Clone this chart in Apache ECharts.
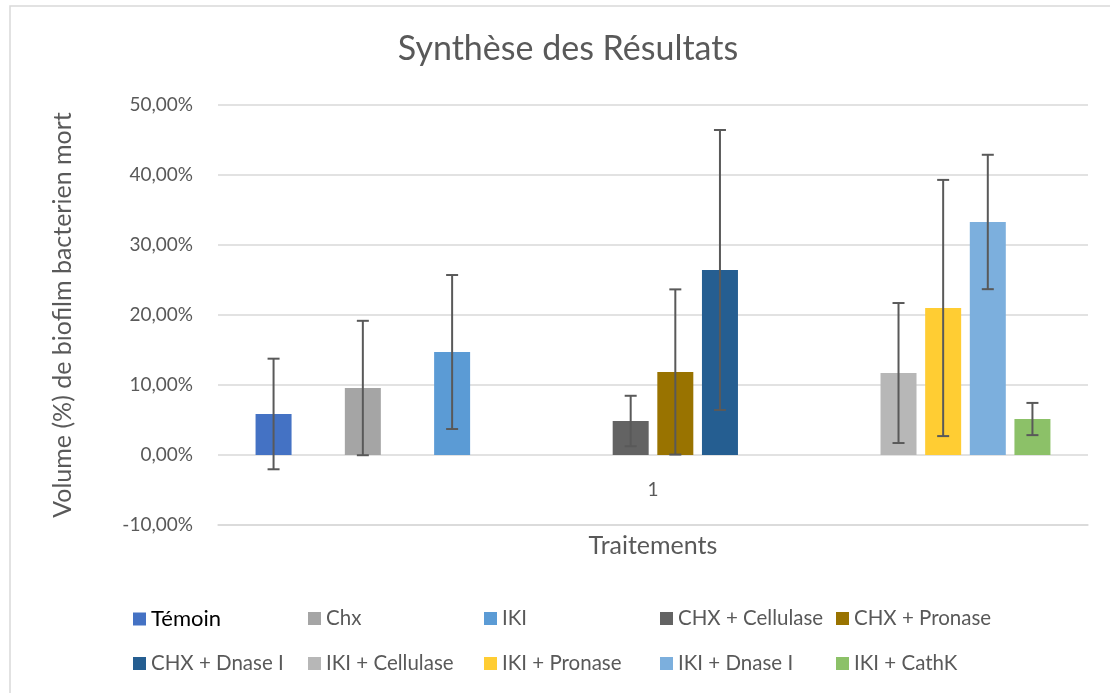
<!DOCTYPE html>
<html>
<head>
<meta charset="utf-8">
<title>Synthèse des Résultats</title>
<script src="https://cdn.jsdelivr.net/npm/echarts@6/dist/echarts.min.js"></script>
<style>
  html, body { margin: 0; padding: 0; background: #fff; }
  #chart { width: 1110px; height: 693px; }
</style>
</head>
<body>
<div id="chart"></div>
<script>
// one category, 18 series in the original sheet (empty ones keep their slot)
var categories = ['1'];
var seriesNames = ['Témoin', '', 'Chx', '', 'IKI', '', '', '', 'CHX + Cellulase', 'CHX + Pronase',
  'CHX + Dnase I', '', '', '', 'IKI + Cellulase', 'IKI + Pronase', 'IKI + Dnase I', 'IKI + CathK'];
// mean values (%)
var seriesValues = [5.86, null, 9.57, null, 14.71, null, null, null, 4.86, 11.86,
  26.43, null, null, null, 11.71, 21.0, 33.29, 5.14];
// error (+/-, %)
var seriesErrors = [7.9, null, 9.6, null, 11.0, null, null, null, 3.6, 11.8,
  20.0, null, null, null, 10.0, 18.3, 9.6, 2.3];
var seriesColors = ['#4472C4', '#ED7D31', '#A5A5A5', '#FFC000', '#5B9BD5', '#70AD47', '#264478', '#9E480E',
  '#636363', '#997300', '#255E91', '#43682B', '#698ED0', '#F1975A', '#B7B7B7', '#FFCD33', '#7CAFDD', '#8CC168'];
var yTicks = [-10, 0, 10, 20, 30, 40, 50];

var FONT = 'Lato';
var GREY = '#595959';
var BAR_W = 36;
var BAR_GAP = 0.24;

var chart = echarts.init(document.getElementById('chart'));

var series = [];
seriesNames.forEach(function (name, i) {
  series.push({
    name: name || ('_vide' + i),
    type: 'bar',
    barWidth: BAR_W,
    barGap: (BAR_GAP * 100) + '%',
    itemStyle: { color: seriesColors[i] },
    data: [seriesValues[i]]
  });
});

var errData = [];
seriesValues.forEach(function (v, i) {
  if (v !== null) errData.push([0, v, seriesErrors[i], i]);
});

series.push({
  type: 'custom',
  name: 'erreurs',
  z: 10,
  silent: true,
  data: errData,
  renderItem: function (params, api) {
    var v = api.value(1), e = api.value(2), slot = api.value(3);
    var n = seriesNames.length;
    var step = BAR_W * (1 + BAR_GAP);
    var top = api.coord([api.value(0), v + e]);
    var bot = api.coord([api.value(0), v - e]);
    var x = top[0] + (slot - (n - 1) / 2) * step;
    var cap = 6;
    var st = { stroke: GREY, lineWidth: 2 };
    return {
      type: 'group',
      children: [
        { type: 'line', shape: { x1: x, y1: top[1], x2: x, y2: bot[1] }, style: st },
        { type: 'line', shape: { x1: x - cap, y1: top[1], x2: x + cap, y2: top[1] }, style: st },
        { type: 'line', shape: { x1: x - cap, y1: bot[1], x2: x + cap, y2: bot[1] }, style: st }
      ]
    };
  }
});

// legend laid out in two rows of five, like the original
var legendCols = [133, 308, 484, 660, 836];
var legendRows = [608, 653];
var legends = [];
var k = 0;
seriesNames.forEach(function (name) {
  if (!name) return;
  legends.push({
    data: [name],
    left: legendCols[k % 5],
    top: legendRows[Math.floor(k / 5)],
    padding: 0,
    itemWidth: 13,
    itemHeight: 13,
    icon: 'rect',
    textStyle: {
      fontFamily: FONT,
      fontSize: name === 'Témoin' ? 22 : 20.5,
      color: name === 'Témoin' ? '#000' : GREY
    }
  });
  k++;
});

var option = {
  animation: false,
  backgroundColor: '#fff',
  textStyle: { fontFamily: FONT },
  title: {
    text: 'Synthèse des Résultats',
    left: 563,
    textAlign: 'center',
    top: 27,
    textStyle: { fontFamily: FONT, fontSize: 34, fontWeight: 'normal', color: GREY }
  },
  graphic: [{
    type: 'rect',
    shape: { x: 10, y: 6, width: 1200, height: 800 },
    style: { fill: null, stroke: '#d9d9d9', lineWidth: 1.5 },
    silent: true
  }],
  legend: legends,
  grid: { left: 218, right: 22, top: 105, bottom: 168 },
  xAxis: {
    type: 'category',
    data: categories,
    name: 'Traitements',
    nameLocation: 'middle',
    nameGap: 8,
    nameTextStyle: { fontFamily: FONT, fontSize: 25, color: GREY },
    axisLine: { onZero: false, lineStyle: { color: '#d9d9d9', width: 1.5 } },
    axisTick: { show: false },
    axisLabel: { margin: -45, fontFamily: FONT, fontSize: 19, color: GREY }
  },
  yAxis: {
    type: 'value',
    min: yTicks[0],
    max: yTicks[yTicks.length - 1],
    interval: 10,
    name: 'Volume (%) de biofilm bacterien mort',
    nameLocation: 'middle',
    nameGap: 143,
    nameTextStyle: { fontFamily: FONT, fontSize: 25, color: GREY },
    axisLine: { show: false },
    axisTick: { show: false },
    splitLine: { lineStyle: { color: '#d9d9d9', width: 1.5 } },
    axisLabel: {
      margin: 25,
      fontFamily: FONT,
      fontSize: 19,
      color: GREY,
      formatter: function (v) { return v.toFixed(2).replace('.', ',') + '%'; }
    }
  },
  series: series
};

chart.setOption(option);
</script>
</body>
</html>
